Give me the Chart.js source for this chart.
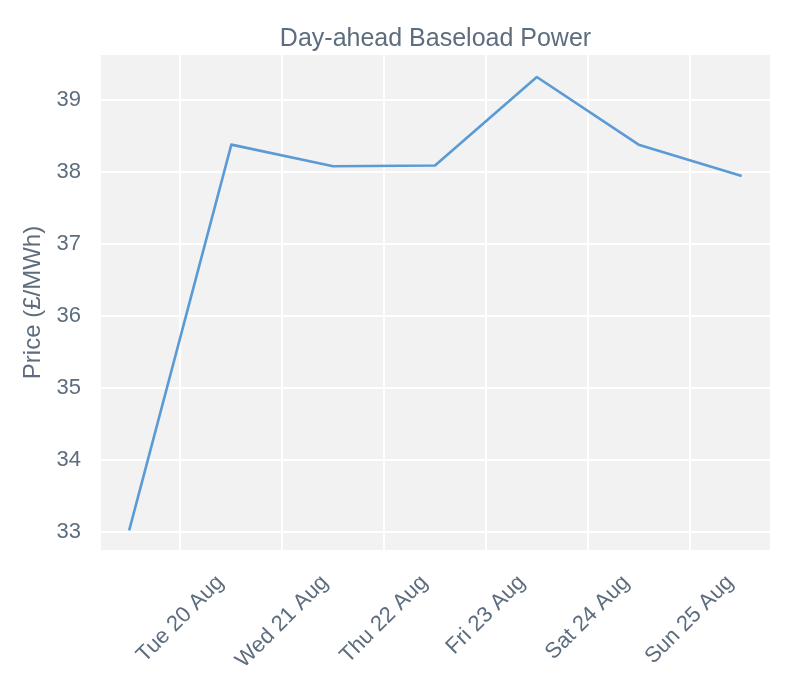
<!DOCTYPE html>
<html lang="en">
<head>
    <meta charset="UTF-8">
    <title>Day-ahead Baseload Power</title>
    <style>
        body {
            margin: 0;
            padding: 0;
            background: #ffffff;
        }
        #chart {
            display: block;
        }
    </style>
</head>
<body>
    <canvas id="chart" width="800" height="700"></canvas>

    <script src="https://cdn.jsdelivr.net/npm/chart.js"></script>
    <script>
        // Delivery days (August) and their baseload price in £/MWh
        const deliveryDays = [19, 20, 21, 22, 23, 24, 25];
        const prices = [33.04, 38.38, 38.08, 38.09, 39.32, 38.38, 37.95];

        // x-axis ticks sit at midnight of each day
        const tickDays = [20, 21, 22, 23, 24, 25];
        const tickLabels = ['Tue 20 Aug', 'Wed 21 Aug', 'Thu 22 Aug', 'Fri 23 Aug', 'Sat 24 Aug', 'Sun 25 Aug'];

        const textColor = '#5d6d7e';
        const fontFamily = '"Liberation Sans", Arial, sans-serif';

        // grey panel behind the plot
        const panelBackground = {
            id: 'panelBackground',
            beforeDraw(chart) {
                const { ctx, chartArea } = chart;
                ctx.save();
                ctx.fillStyle = '#f2f2f2';
                ctx.fillRect(chartArea.left, chartArea.top, chartArea.right - chartArea.left, chartArea.bottom - chartArea.top);
                ctx.restore();
            }
        };

        // rotated x labels centred under their tick (matplotlib style)
        const centredXLabels = {
            id: 'centredXLabels',
            afterDraw(chart) {
                const { ctx } = chart;
                const xScale = chart.scales.x;
                const size = 22;
                const angle = Math.PI / 4;
                ctx.save();
                ctx.font = size + 'px ' + fontFamily;
                ctx.fillStyle = textColor;
                ctx.textAlign = 'center';
                ctx.textBaseline = 'middle';
                tickDays.forEach((day, i) => {
                    const label = tickLabels[i];
                    const w = ctx.measureText(label).width;
                    const h = size * 1.15;
                    const boxH = w * Math.sin(angle) + h * Math.cos(angle);
                    const cx = xScale.getPixelForValue(day);
                    const cy = xScale.top + 20 + boxH / 2;
                    ctx.save();
                    ctx.translate(cx, cy);
                    ctx.rotate(-angle);
                    ctx.fillText(label, 0, 0);
                    ctx.restore();
                });
                ctx.restore();
            }
        };

        function renderChart() {
            const ctx = document.getElementById('chart').getContext('2d');
            new Chart(ctx, {
                type: 'line',
                data: {
                    datasets: [{
                        label: 'Day-ahead Baseload',
                        data: deliveryDays.map((day, i) => ({ x: day + 0.5, y: prices[i] })),
                        borderColor: '#5b9bd5',
                        borderWidth: 2.6,
                        borderCapStyle: 'square',
                        borderJoinStyle: 'round',
                        pointRadius: 0,
                        tension: 0,
                        fill: false
                    }]
                },
                options: {
                    responsive: false,
                    animation: false,
                    layout: {
                        padding: { left: 0, right: 30, top: 0, bottom: 0 }
                    },
                    plugins: {
                        legend: { display: false },
                        tooltip: { enabled: false },
                        title: {
                            display: true,
                            fullSize: false,
                            text: 'Day-ahead Baseload Power',
                            color: textColor,
                            font: { family: fontFamily, size: 25, weight: 'normal' },
                            padding: { top: 24, bottom: 1 }
                        }
                    },
                    scales: {
                        x: {
                            type: 'linear',
                            min: 19.22,
                            max: 25.79,
                            afterBuildTicks(scale) {
                                scale.ticks = tickDays.map(v => ({ value: v }));
                            },
                            afterFit(scale) {
                                scale.height = 150;
                            },
                            ticks: { display: false },
                            grid: { color: '#ffffff', lineWidth: 2, drawTicks: false },
                            border: { display: false }
                        },
                        y: {
                            min: 32.75,
                            max: 39.625,
                            afterBuildTicks(scale) {
                                const vals = [];
                                for (let v = 33; v <= 39; v++) vals.push({ value: v });
                                scale.ticks = vals;
                            },
                            afterFit(scale) {
                                scale.width = 101;
                            },
                            ticks: {
                                color: textColor,
                                padding: 20,
                                font: { family: fontFamily, size: 22 }
                            },
                            grid: { color: '#ffffff', lineWidth: 2, drawTicks: false },
                            border: { display: false },
                            title: {
                                display: true,
                                text: 'Price (£/MWh)',
                                color: textColor,
                                font: { family: fontFamily, size: 24 },
                                padding: { top: 18.6, bottom: 0 }
                            }
                        }
                    }
                },
                plugins: [panelBackground, centredXLabels]
            });
        }

        document.addEventListener('DOMContentLoaded', renderChart);
    </script>
</body>
</html>
